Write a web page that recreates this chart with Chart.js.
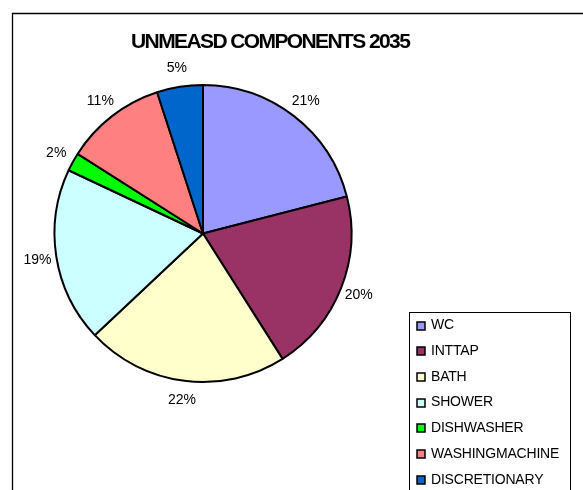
<!DOCTYPE html>
<html>
<head>
<meta charset="utf-8">
<script src="https://cdn.jsdelivr.net/npm/chart.js@4/dist/chart.umd.min.js"></script>
<style>
  html, body { margin: 0; padding: 0; background: #fff; }
</style>
</head>
<body>
<canvas id="componentes" width="583" height="490"></canvas>
<script>
  let titulo = "UNMEASD COMPONENTS 2035";
  let componentes = ["WC", "INTTAP", "BATH", "SHOWER", "DISHWASHER", "WASHINGMACHINE", "DISCRETIONARY"];
  let percentagens = [21, 20, 22, 19, 2, 11, 5];
  let cores = ["#9999FF", "#993366", "#FFFFCC", "#CCFFFF", "#00FF00", "#FF8080", "#0066CC"];

  let fonte = "'Liberation Sans', Arial, sans-serif";

  // moldura do grafico (so a esquerda e o topo ficam visiveis)
  let moldura = {
    id: "moldura",
    beforeDraw(chart) {
      let ctx = chart.ctx;
      ctx.save();
      ctx.strokeStyle = "#000";
      ctx.lineWidth = 1.3;
      ctx.beginPath();
      ctx.moveTo(12.5, chart.height);
      ctx.lineTo(12.5, 13.5);
      ctx.lineTo(chart.width, 13.5);
      ctx.stroke();
      ctx.restore();
    }
  };

  let tituloPlugin = {
    id: "tituloPlugin",
    afterDraw(chart) {
      let ctx = chart.ctx;
      ctx.save();
      ctx.font = "bold 21px " + fonte;
      ctx.letterSpacing = "-1.6px";
      ctx.fillStyle = "#000";
      ctx.textAlign = "left";
      ctx.textBaseline = "middle";
      ctx.fillText(titulo, 131, 42);
      ctx.restore();
    }
  };

  // percentagens fora de cada fatia
  let rotulos = {
    id: "rotulos",
    afterDatasetsDraw(chart) {
      let ctx = chart.ctx;
      let arcos = chart.getDatasetMeta(0).data;
      ctx.save();
      ctx.font = "14px " + fonte;
      ctx.fillStyle = "#000";
      ctx.textAlign = "center";
      ctx.textBaseline = "middle";
      for (let i = 0; i < arcos.length; i++) {
        let a = arcos[i];
        let meio = (a.startAngle + a.endAngle) / 2;
        let d = a.outerRadius + 19;
        ctx.fillText(percentagens[i] + "%", a.x + Math.cos(meio) * d, a.y + Math.sin(meio) * d);
      }
      ctx.restore();
    }
  };

  // legenda com caixa, canto inferior direito
  let legenda = {
    id: "legenda",
    afterDraw(chart) {
      let ctx = chart.ctx;
      ctx.save();
      ctx.strokeStyle = "#000";
      ctx.lineWidth = 1;
      ctx.strokeRect(409.5, 312.5, 161, 220);
      ctx.font = "14px " + fonte;
      ctx.letterSpacing = "-0.2px";
      ctx.textAlign = "left";
      ctx.textBaseline = "middle";
      ctx.lineWidth = 1.5;
      for (let i = 0; i < componentes.length; i++) {
        let y = 325.5 + i * 25.7;
        ctx.fillStyle = cores[i];
        ctx.fillRect(417, Math.round(y) - 4, 8, 8);
        ctx.strokeRect(417, Math.round(y) - 4, 8, 8);
        ctx.fillStyle = "#000";
        ctx.fillText(componentes[i], 431, y);
      }
      ctx.restore();
    }
  };

  let ctx = document.getElementById("componentes").getContext("2d");
  let grafico = new Chart(ctx, {
    type: "pie",
    data: {
      labels: componentes,
      datasets: [
        {
          data: percentagens,
          backgroundColor: cores,
          borderColor: "#000",
          borderWidth: 2,
          radius: 148.5
        }
      ]
    },
    options: {
      responsive: false,
      animation: false,
      events: [],
      layout: {
        padding: { left: 54.5, right: 231.5, top: 85, bottom: 108 }
      },
      plugins: {
        legend: { display: false },
        title: { display: false },
        tooltip: { enabled: false }
      }
    },
    plugins: [moldura, rotulos, tituloPlugin, legenda]
  });
</script>
</body>
</html>
